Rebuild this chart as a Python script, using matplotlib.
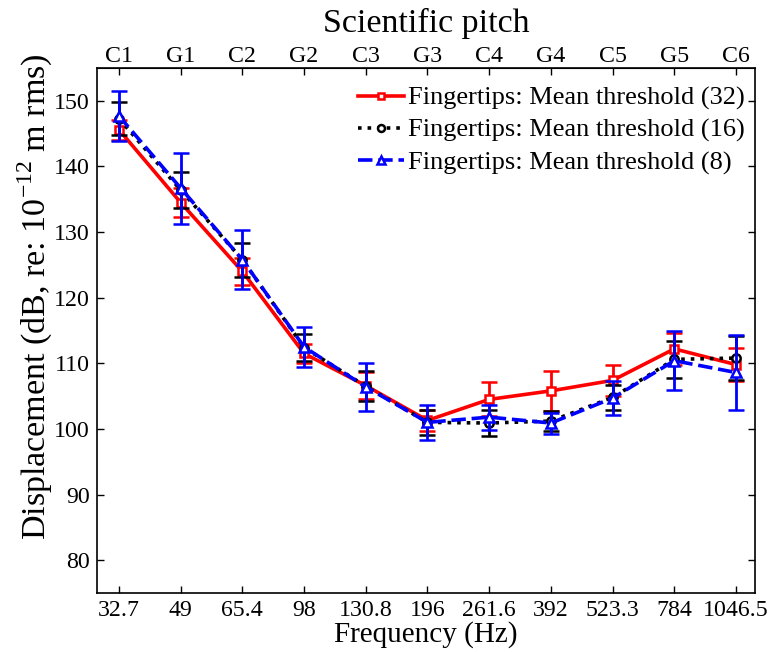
import matplotlib
matplotlib.use("Agg")
import matplotlib.pyplot as plt
from matplotlib.lines import Line2D
import numpy as np

freq_labels = ['32.7', '49', '65.4', '98', '130.8', '196', '261.6', '392', '523.3', '784', '1046.5']
pitch_labels = ['C1', 'G1', 'C2', 'G2', 'C3', 'G3', 'C4', 'G4', 'C5', 'G5', 'C6']

red = [145.6, 134.5, 124.0, 111.5, 106.6, 101.3, 104.5, 105.8, 107.4, 112.2, 109.8]
red_err = [1.5, 2.2, 2.1, 1.5, 2.0, 1.6, 2.6, 3.1, 2.4, 2.4, 2.5]
black = [147.3, 136.4, 125.8, 112.4, 106.5, 101.0, 100.9, 101.2, 104.8, 110.6, 110.8]
black_err = [2.45, 2.75, 2.6, 2.0, 2.3, 1.9, 2.0, 1.5, 1.9, 2.8, 3.4]
blue = [147.7, 136.7, 125.8, 112.5, 106.4, 101.0, 101.8, 100.9, 104.7, 110.4, 108.6]
blue_err = [3.8, 5.4, 4.5, 3.1, 3.7, 2.7, 1.9, 1.6, 2.55, 4.5, 5.65]
series_labels = ['Fingertips: Mean threshold (32)', 'Fingertips: Mean threshold (16)',
                 'Fingertips: Mean threshold (8)']

plt.rcParams['font.family'] = ['Liberation Serif', 'DejaVu Serif']
plt.rcParams['mathtext.fontset'] = 'custom'
plt.rcParams['mathtext.rm'] = 'Liberation Serif'

fig = plt.figure(figsize=(7.69, 6.52), dpi=100)
ax = fig.add_axes([0.126, 0.0905, 0.856, 0.8052])

x = np.arange(len(freq_labels))

styles = [
    dict(color='#ff0000', ls='-', marker='s', ms=6),
    dict(color='black', ls=':', marker='o', ms=6),
    dict(color='#0000ff', ls=(0, (4, 1.6)), marker='^', ms=7),
]
datasets = [(red, red_err), (black, black_err), (blue, blue_err)]
handles = []
for i, ((y, e), st, lab) in enumerate(zip(datasets, styles, series_labels)):
    ax.errorbar(x, y, yerr=e, color=st['color'], ls=st['ls'], lw=2.6, marker=st['marker'],
                ms=st['ms'], mfc='white', mec=st['color'], mew=1.8, capsize=6, capthick=2,
                elinewidth=2, zorder=3 + i)
    handles.append(Line2D([], [], color=st['color'], ls=st['ls'], lw=2.6, marker=st['marker'],
                          ms=st['ms'] - 1, mfc='white', mec=st['color'], mew=1.8, label=lab))

ax.set_xlim(-0.357, 10.31)
ax.set_ylim(75, 155)
ax.set_xticks(x)
ax.set_xticklabels(freq_labels)
ax.set_yticks(np.arange(80, 151, 10))
ax.tick_params(direction='in', labelsize=17.2, length=5, width=1, top=False, right=True, pad=5)
ax.set_xlabel('Frequency (Hz)', fontsize=21, labelpad=0)
ax.set_ylabel(r'Displacement (dB, re: 10$^{\mathregular{-12}}$ m rms)', fontsize=24.5)
ax.yaxis.set_label_coords(-0.064, 0.565)
for sp in ax.spines.values():
    sp.set_linewidth(1.2)

sec = ax.secondary_xaxis('top')
sec.set_xticks(x)
sec.set_xticklabels(pitch_labels)
sec.tick_params(direction='in', labelsize=17.2, length=5, width=1, pad=1)
sec.set_xlabel('Scientific pitch', fontsize=24.5, labelpad=10)

ax.legend(handles=handles, loc='upper right', bbox_to_anchor=(1.012, 1.0), frameon=False,
          fontsize=19, handlelength=1.75, handletextpad=0.15, labelspacing=0.31,
          borderaxespad=0.3)

fig.savefig('out.png', dpi=100)
